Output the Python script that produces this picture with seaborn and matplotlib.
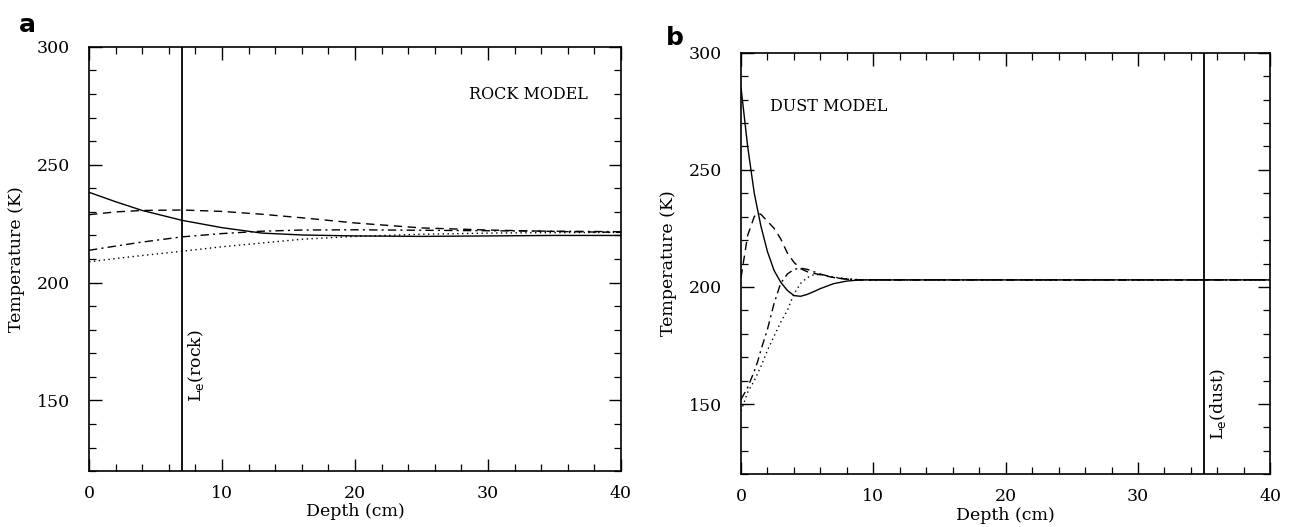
import matplotlib
matplotlib.use("Agg")
import matplotlib.pyplot as plt
from matplotlib.ticker import MultipleLocator
import seaborn as sns
import pandas as pd

sns.set_theme(style="white")
plt.rcParams['font.family'] = ['DejaVu Serif']
plt.rcParams['text.color'] = 'black'
plt.rcParams['axes.labelcolor'] = 'black'
plt.rcParams['xtick.color'] = 'black'
plt.rcParams['ytick.color'] = 'black'

# ---- Rock model (panel a) ----
rock_depth = [0, 2, 4, 7, 10, 13, 16, 20, 25, 30, 35, 40]
rock_solid = [238.3, 234.3, 230.6, 226.4, 223.3, 221.0, 220.2, 219.8, 219.6, 219.8, 220.0, 220.0]
rock_dashed = [228.8, 230.0, 230.6, 230.8, 230.2, 229.0, 227.5, 225.3, 223.2, 222.3, 221.7, 221.3]
rock_dashdot = [213.7, 215.5, 217.2, 219.4, 220.8, 221.8, 222.3, 222.4, 222.2, 222.0, 221.8, 221.6]
rock_dotted = [208.8, 210.2, 211.5, 213.3, 215.2, 216.8, 218.4, 219.6, 220.5, 221.0, 221.2, 221.3]

# ---- Dust model (panel b) ----
dust_depth = [0, 0.5, 1, 1.25, 1.5, 2, 2.5, 3, 3.5, 4, 4.5, 5, 5.5, 6, 7, 8, 9, 10, 20, 30, 40]
dust_solid = [285, 260, 240, 233, 226, 215, 207, 202, 198.5, 196.3, 196.0, 196.8, 198.0, 199.3, 201.4, 202.5, 203, 203, 203, 203, 203]
dust_dashed = [204, 222, 230, 231.6, 231, 228, 225, 220.5, 214.5, 210.5, 207.8, 206.5, 205.8, 205.2, 204, 203.3, 203, 203, 203, 203, 203]
dust_dashdot = [152, 157, 164, 168, 173, 182, 193, 201.6, 205.5, 207.5, 208, 207.5, 206.5, 205.5, 204, 203.3, 203, 203, 203, 203, 203]
dust_dotted = [147, 155, 160, 163, 166, 173, 179, 185, 190, 197, 201.5, 204, 205.2, 205.3, 204.2, 203.5, 203.1, 203, 203, 203, 203]

le_rock = 7.0
le_dust = 35.0

styles = ['-', (0, (6, 4)), (0, (6, 3, 1.5, 3)), (0, (1, 2.5))]

fig = plt.figure(figsize=(12.91, 5.27), dpi=100)
axA = fig.add_axes([0.069, 0.106, 0.412, 0.805])
axB = fig.add_axes([0.574, 0.100, 0.410, 0.800])


def draw(ax, depth, series, le, le_label, le_y, model_text, mx, my, mha):
    for vals, ls in zip(series, styles):
        df = pd.DataFrame({'Depth': depth, 'T': vals})
        sns.lineplot(data=df, x='Depth', y='T', ax=ax, color='black',
                     linewidth=1.0, linestyle=ls)
    ax.axvline(le, color='black', linewidth=1.3)
    ax.text(le + 0.3, le_y, le_label, rotation=90, ha='left', va='center',
            fontsize=12.5)
    ax.text(mx, my, model_text, ha=mha, va='center', fontsize=11.5)
    ax.set_xlim(0, 40)
    ax.set_ylim(120, 300)
    ax.xaxis.set_major_locator(MultipleLocator(10))
    ax.xaxis.set_minor_locator(MultipleLocator(2))
    ax.yaxis.set_major_locator(MultipleLocator(50))
    ax.yaxis.set_minor_locator(MultipleLocator(10))
    ax.tick_params(which='both', direction='in', top=True, right=True,
                   bottom=True, left=True, color='black', labelsize=12.5)
    ax.tick_params(which='major', length=9, width=1.0)
    ax.tick_params(which='minor', length=5, width=0.9)
    ax.tick_params(axis='y', which='major', pad=14)
    ax.tick_params(axis='x', which='major', pad=10)
    ax.set_xlabel('Depth (cm)', fontsize=12.5, labelpad=1)
    ax.set_ylabel('Temperature (K)', fontsize=12.5, labelpad=8)
    for sp in ax.spines.values():
        sp.set_color('black')
        sp.set_linewidth(1.2)


draw(axA, rock_depth, [rock_solid, rock_dashed, rock_dashdot, rock_dotted],
     le_rock, r'L$_\mathrm{e}$(rock)', 165, 'ROCK MODEL', 37.5, 280, 'right')
draw(axB, dust_depth, [dust_solid, dust_dashed, dust_dashdot, dust_dotted],
     le_dust, r'L$_\mathrm{e}$(dust)', 150, 'DUST MODEL', 2.2, 277, 'left')

fig.text(0.015, 0.975, 'a', fontsize=18, fontweight='bold',
         family='DejaVu Sans', va='top')
fig.text(0.516, 0.95, 'b', fontsize=18, fontweight='bold',
         family='DejaVu Sans', va='top')

fig.savefig('out.png', dpi=100, facecolor='white')
